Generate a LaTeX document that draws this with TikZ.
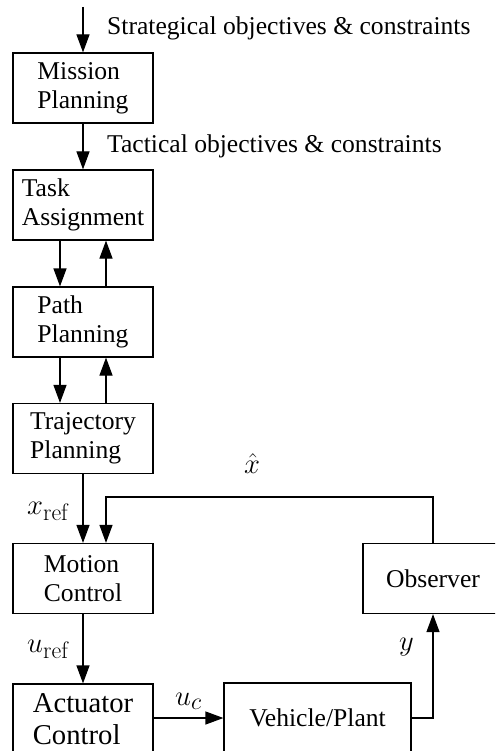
\documentclass[tikz,border=0pt]{standalone}
\usepackage[no-math]{fontspec}
\setmainfont{Liberation Serif}
\usetikzlibrary{arrows.meta}
\newcommand{\mbig}[1]{\scalebox{1.15}{#1}}
\begin{document}
\begin{tikzpicture}[x=1pt,y=-1pt,
  blk/.style={draw,line width=1.2pt,minimum width=140pt,minimum height=70pt,inner sep=0pt,align=left,
    font=\fontsize{25.6}{29}\selectfont},
  arr/.style={line width=1.2pt,-{Triangle[length=18pt,width=13pt]}},
  lbl/.style={inner sep=0pt,anchor=base west,font=\fontsize{25.6}{29}\selectfont},
  mlbl/.style={inner sep=0pt,anchor=base west,font=\fontsize{24.88}{29}\selectfont}]
\useasboundingbox (0,0) rectangle (495,751);
\clip (0,0) rectangle (495,751);
\node[blk] (mp) at (83,88) {Mission\\Planning};
\node[blk] (ta) at (83,205) {Task\\Assignment};
\node[blk] (pp) at (83,322) {Path\\Planning};
\node[blk] (tp) at (83,438.5) {Trajectory\\Planning};
\node[blk] (mc) at (83,578.5) {Motion\\Control};
\node[blk,font=\fontsize{28.7}{32}\selectfont] (ac) at (83,719) {Actuator\\Control};
\node[blk,minimum width=187pt] (vp) at (317.5,718) {Vehicle/Plant};
\node[blk] (ob) at (433,578.5) {Observer};
\coordinate (top) at (83,7);
\coordinate (fb1) at (106,497);
\coordinate (fb2) at (433,497);
\coordinate (vo) at (433,718);
\draw[arr] (top) -- (mp.north);
\draw[arr] (mp.south) -- (ta.north);
\draw[arr] (ta.south -| 60,0) -- (pp.north -| 60,0);
\draw[arr] (pp.north -| 106,0) -- (ta.south -| 106,0);
\draw[arr] (pp.south -| 60,0) -- (tp.north -| 60,0);
\draw[arr] (tp.north -| 106,0) -- (pp.south -| 106,0);
\draw[arr] (tp.south) -- (mc.north);
\draw[arr] (ob.north) -- (fb2) -- (fb1) -- (mc.north -| fb1);
\draw[arr] (mc.south) -- (ac.north);
\draw[arr] (ac.east |- vp.west) -- (vp.west);
\draw[arr] (vp.east) -- (vo) -- (ob.south);
\node[lbl] (l1) at (107,35) {Strategical objectives \& constraints};
\node[lbl] (l2) at (107,153) {Tactical objectives \& constraints};
\node[mlbl] (l3) at (244,473) {\mbig{$\hat{x}$}};
\node[mlbl] (l4) at (27,514) {\mbig{$x_{\mathrm{ref}}$}};
\node[mlbl] (l5) at (27,652) {\mbig{$u_{\mathrm{ref}}$}};
\node[mlbl] (l6) at (175,705) {\mbig{$u_c$}};
\node[mlbl] (l7) at (399,650) {\mbig{$y$}};
\end{tikzpicture}
\end{document}
